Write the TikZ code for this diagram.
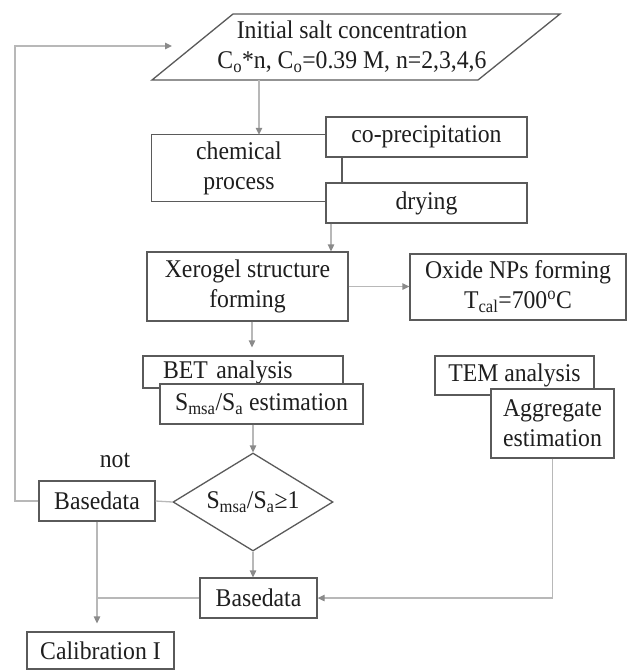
\documentclass[tikz,border=0pt]{standalone}
\usepackage{fontspec}
\setmainfont{Liberation Serif}[FakeStretch=0.93]
\usetikzlibrary{arrows.meta,shapes.geometric}
\definecolor{boxc}{HTML}{5A5A5A}
\definecolor{linec}{HTML}{B8B8B8}
\definecolor{tipc}{HTML}{8A8A8A}
\definecolor{txtc}{HTML}{1E1E1E}
\tikzset{
 box/.style={draw=boxc, line width=1.3pt, fill=white, inner sep=0pt, align=center, text=txtc},
 plain/.style={inner sep=0pt, align=center, text=txtc},
 conn/.style={draw=linec, line width=1.3pt},
 arr/.style={conn, -{Triangle[length=7pt,width=6.5pt,fill=tipc,color=tipc]}},
 darkline/.style={draw=boxc, line width=1.3pt},
}
\begin{document}
\begin{tikzpicture}[x=1pt,y=-1pt, font=\fontsize{25.5}{30}\selectfont]
\useasboundingbox (0,0) rectangle (628,670);
% parallelogram
\coordinate (pbl) at (152,80);
\coordinate (ptl) at (233,14);
\coordinate (ptr) at (560,14);
\coordinate (pbr) at (478,80);
\draw[box] (pbl) -- (ptl) -- (ptr) -- (pbr) -- cycle;
\node[plain, minimum height=66pt] (init) at (352,47) {Initial salt concentration\\C\textsubscript{o}*n, C\textsubscript{o}=0.39 M, n=2,3,4,6};
% column coordinates
\coordinate (cx1) at (259,0);
\coordinate (cx2) at (331,0);
\coordinate (cx4) at (252,0);
\coordinate (cx6) at (342,0);
\coordinate (fbx) at (15,0);
\coordinate (fbtip) at (172,46);
% boxes
\node[plain, minimum width=174pt, minimum height=66pt] (chem) at (239,168) {chemical\\process};
\draw[darkline] (chem.north east) -- (chem.north west) -- (chem.south west) -- (chem.south east);
\node[box, minimum width=201pt, minimum height=40pt] (coprec) at (426.5,137) {co-precipitation};
\node[box, minimum width=201pt, minimum height=40pt] (drying) at (426.5,203) {drying};
\node[box, minimum width=201pt, minimum height=69pt] (xero) at (247.5,286.5) {Xerogel structure\\forming};
\node[box, minimum width=216pt, minimum height=66pt] (oxide) at (518,287) {Oxide NPs forming\\T\textsubscript{cal}=700\textsuperscript{o}C};
\node[box, minimum width=200pt, minimum height=32pt, text width=160pt, inner xsep=20pt, align=left] (bet) at (243,372) {BET analysis};
\node[box, minimum width=203pt, minimum height=40pt] (sest) at (261.5,404) {S\textsubscript{msa}/S\textsubscript{a} estimation};
\node[box, minimum width=159pt, minimum height=39pt] (tem) at (514.5,375.5) {TEM analysis};
\node[box, minimum width=123pt, minimum height=69pt] (agg) at (552.5,423.5) {Aggregate\\estimation};
\node[box, diamond, aspect=1.63, minimum width=160pt, minimum height=98pt] (dia) at (253,502) {S\textsubscript{msa}/S\textsubscript{a}≥1};
\node[box, minimum width=116pt, minimum height=40pt] (b1) at (97,501) {Basedata};
\node[box, minimum width=117pt, minimum height=40pt] (b2) at (258.5,598) {Basedata};
\node[box, minimum width=147pt, minimum height=37pt] (cal) at (100.5,650.5) {Calibration I};
\node[plain] (notlbl) at (115,460) {not};
% connectors
\draw[arr] (init.south -| cx1) -- (chem.north -| cx1);
\draw[darkline] (coprec.south -| cx6) -- (drying.north -| cx6);
\draw[arr] (drying.south -| cx2) -- (xero.north -| cx2);
\draw[arr] (xero.east) -- (xero.east -| oxide.west);
\draw[arr, shorten >=8pt] (xero.south -| cx4) -- (bet.north -| cx4);
\draw[arr] (sest.south -| dia.north) -- (dia.north);
\draw[arr] (dia.south) -- (b2.north -| dia.south);
\draw[conn] (dia.west) -- (b1.east);
\draw[arr] (b1.west) -- (b1.west -| fbx) |- (fbtip);
\draw[arr] (agg.south) |- (b2.east);
\draw[conn] (b2.west) -- (b2.west -| b1.south);
\draw[arr, shorten >=8pt] (b1.south) -- (cal.north -| b1.south);
\end{tikzpicture}
\end{document}
